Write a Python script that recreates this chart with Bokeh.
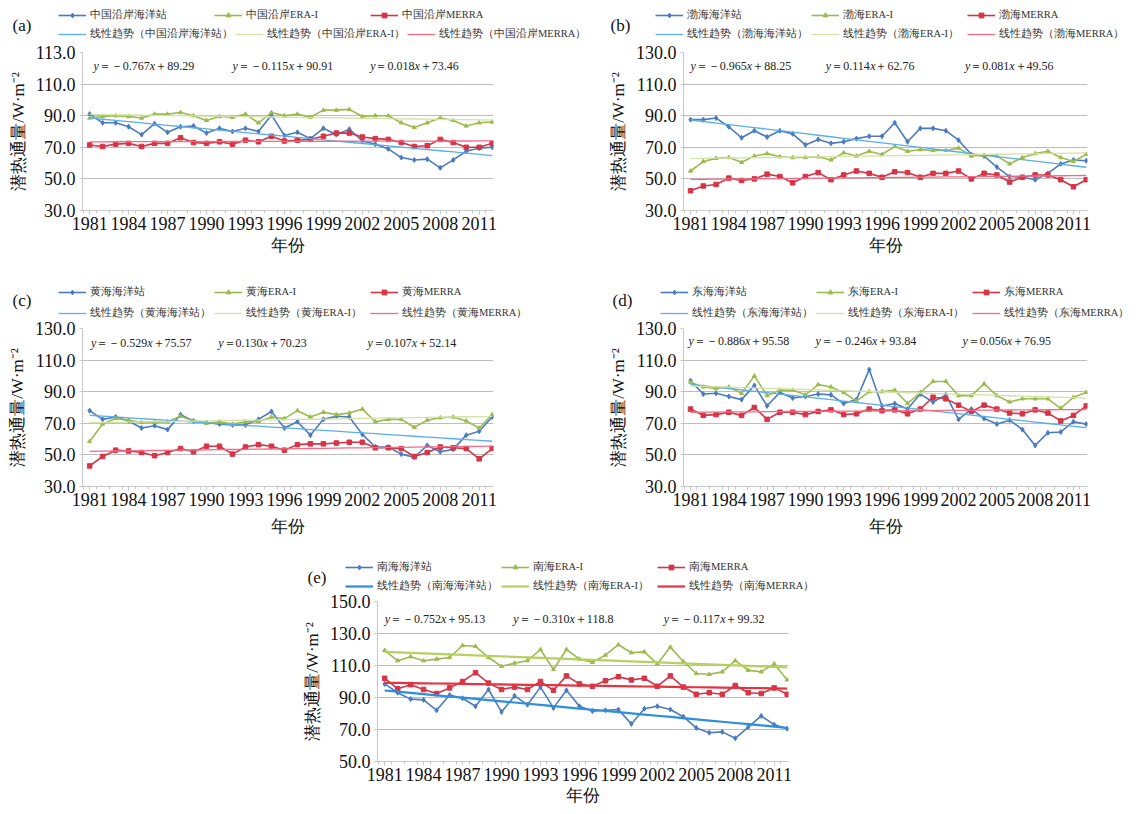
from bokeh.plotting import figure
from bokeh.models import Legend, LegendItem, Label, FixedTicker, PrintfTickFormatter, Range1d, Spacer
from bokeh.layouts import column, row
from bokeh.embed import file_html
from bokeh.resources import INLINE

years = list(range(1981, 2013))
tick_years = list(range(1981, 2012, 3))
minor_years = [y - 0.5 for y in range(1981, 2014)]

regions = ["中国沿岸", "渤海", "黄海", "东海", "南海"]
tags = ["(a)", "(b)", "(c)", "(d)", "(e)"]

# ---- (a) 中国沿岸 ----
a_station = [91, 85.5, 85.5, 83, 78, 85, 79.5, 83, 83.5, 79, 82, 80, 82, 80, 90.5, 77.5,
             79.5, 75.5, 82, 78, 81.5, 74, 72, 69, 63.5, 62, 62.5, 57, 62, 67.5, 69.5, 70]
a_era = [88.5, 89.5, 90, 89.5, 88.5, 91, 91, 92, 90, 87, 89.5, 89, 91, 85.5, 92, 90,
         91, 89, 93.5, 93.5, 94, 89.5, 90, 90, 85.5, 82.5, 85.5, 88.5, 87, 83.5, 85.5, 86]
a_merra = [71.5, 70.5, 72, 72.5, 70.5, 72.5, 72.5, 76, 73, 72.5, 73.5, 72, 74.5, 73.5, 77, 74,
           74.5, 75, 77, 79, 79, 76.5, 75.5, 75, 73, 70.5, 71, 75, 73, 70, 70, 72.5]
a_coef = [(-0.767, 89.29), (-0.115, 90.91), (0.018, 73.46)]
a_eq = ["y＝－0.767x＋89.29", "y＝－0.115x＋90.91", "y＝0.018x＋73.46"]

# ---- (b) 渤海 ----
b_station = [87.5, 87.5, 88.5, 83, 76, 80.5, 76.5, 80.5, 78.5, 71.5, 75, 72.5, 73.5, 75.5, 77, 77,
             85.5, 73.5, 82, 82, 80.5, 74.5, 65.5, 64.5, 57.5, 51.5, 51, 49.5, 53.5, 59.5, 62, 61.5]
b_era = [55, 61, 63, 63.5, 60.5, 64.5, 66, 64, 63.5, 63.5, 64, 62, 66.5, 64.5, 67.5, 65.5,
         70.5, 67.5, 68.5, 68, 68, 69.5, 64.5, 65, 64.5, 59.5, 63.5, 66, 67.5, 63.5, 61, 65.5]
b_merra = [42.5, 45.5, 46.5, 50.5, 49, 50, 53, 51.5, 47.5, 51.5, 54, 49.5, 52.5, 55, 53.5, 51,
           54.5, 54, 51, 53.5, 53.5, 55, 50, 53.5, 52.5, 48, 51, 52.5, 52.5, 49.5, 45, 49.5]
b_coef = [(-0.965, 88.25), (0.114, 62.76), (0.081, 49.56)]
b_eq = ["y＝－0.965x＋88.25", "y＝0.114x＋62.76", "y＝0.081x＋49.56"]

# ---- (c) 黄海 ----
c_station = [78, 72.5, 74, 71.5, 67, 68.5, 66, 75.5, 71.5, 70.5, 69.5, 69, 69, 72.5, 77.5, 67,
             71, 62.5, 72.5, 74.5, 74, 63, 55, 55, 50.5, 48.5, 56, 52, 53.5, 62.5, 65, 74]
c_era = [58.5, 69.5, 73, 72, 70.5, 70.5, 71, 74.5, 71.5, 70, 71, 69.5, 71, 71, 74, 73,
         78, 74, 77, 75.5, 76.5, 79, 71, 72.5, 72.5, 67.5, 72, 73.5, 74, 71.5, 67, 75.5]
c_merra = [43, 49, 53, 52.5, 51.5, 49.5, 51.5, 54, 52, 55.5, 55.5, 50.5, 55, 56.5, 55.5, 53,
           56.5, 57, 57, 57.5, 58, 58, 54.5, 54.5, 54, 49, 51.5, 55, 54.5, 54, 47.5, 54]
c_coef = [(-0.529, 75.57), (0.130, 70.23), (0.107, 52.14)]
c_eq = ["y＝－0.529x＋75.57", "y＝0.130x＋70.23", "y＝0.107x＋52.14"]

# ---- (d) 东海 ----
d_station = [97, 88.5, 89, 87, 85, 94, 81, 89.5, 86, 87, 88.5, 88, 82.5, 85, 104, 81,
             82.5, 79, 88.5, 83.5, 88, 72.5, 79, 73, 69.5, 72, 66, 56, 64, 64.5, 71, 69.5]
d_era = [96, 93, 92, 93, 89, 100, 87.5, 91, 91, 88, 94.5, 93, 89.5, 84, 90, 90,
         91, 82.5, 89.5, 96.5, 96.5, 87.5, 87.5, 95, 87.5, 83.5, 85.5, 85.5, 85.5, 79.5, 86.5, 89.5]
d_merra = [79, 75, 75.5, 77, 75, 80, 72.5, 77, 77, 75.5, 77.5, 78.5, 75.5, 76, 79, 78,
           78.5, 76, 79, 86.5, 85.5, 81.5, 77.5, 81.5, 79, 76.5, 76, 78.5, 76.5, 71.5, 75, 81]
d_coef = [(-0.886, 95.58), (-0.246, 93.84), (0.056, 76.95)]
d_eq = ["y＝－0.886x＋95.58", "y＝－0.246x＋93.84", "y＝0.056x＋76.95"]

# ---- (e) 南海 ----
e_station = [98.5, 93, 89, 88.5, 82, 91.5, 89.5, 84.5, 95, 81, 91, 85.5, 96.5, 83.5, 94.5, 84.5,
             81.5, 82, 82.5, 73.5, 83, 84.5, 82.5, 78, 71, 68, 68.5, 64.5, 71.5, 78.5, 73, 70.5]
e_era = [119.5, 113, 115.5, 113, 114, 115, 122.5, 122, 115, 109.5, 111.5, 113, 120, 107.5, 120, 114,
         112, 116.5, 123, 118, 118.5, 111, 121.5, 112.5, 105, 104.5, 106, 113, 107, 106, 111, 101]
e_merra = [102, 95.5, 98, 95, 92.5, 96, 100, 105.5, 99, 95, 96.5, 95, 100, 94.5, 103.5, 98.5,
           97, 100.5, 103, 101, 102, 97, 103.5, 96.5, 92, 93, 92, 97.5, 93, 92.5, 96, 92]
e_coef = [(-0.752, 95.13), (-0.310, 118.8), (-0.117, 99.32)]
e_eq = ["y＝－0.752x＋95.13", "y＝－0.310x＋118.8", "y＝－0.117x＋99.32"]

y_ticks_ad = [30, 50, 70, 90, 110, 130]
y_ticks_e = [50, 70, 90, 110, 130, 150]

SERIF = "Liberation Serif"
ST, ERA, ME = "#4A7BC0", "#9BBB4C", "#D63447"
TOP_IN_PLOT = 8
EQ_SIZE = 12
TICK_SIZE = "18px"


def char_w(ch, size):
    if ord(ch) > 0x2E80:
        return size
    if ch == ".":
        return 0.25 * size
    if ch in "xy":
        return 0.444 * size
    return 0.5 * size


def eq_segments(txt):
    """split an equation into (text, italic) runs: variables x, y are italic"""
    segs, cur = [], ""
    for ch in txt:
        if ch in "xy":
            if cur:
                segs.append((cur, False))
                cur = ""
            segs.append((ch, True))
        else:
            cur += ch
    if cur:
        segs.append((cur, False))
    return segs


def add_series(fig, st, era, me, trends, trend_cols, trend_w, msize=(5, 4, 4.5)):
    r = {}
    r["l1"] = fig.line(years, st, color=ST, line_width=1.6)
    r["m1"] = fig.scatter(years, st, marker="diamond", size=msize[0], color=ST)
    r["l2"] = fig.line(years, era, color=ERA, line_width=1.6)
    r["m2"] = fig.scatter(years, era, marker="triangle", size=msize[1], color=ERA)
    r["l3"] = fig.line(years, me, color=ME, line_width=1.6)
    r["m3"] = fig.scatter(years, me, marker="square", size=msize[2], color=ME)
    r["t"] = [fig.line(years, ys, color=col, line_width=trend_w) for ys, col in zip(trends, trend_cols)]
    return r


def make_panel(tag, region, st, era, me, coefs, eqs, eq_x, eq_dy, y0, y1, yticks, overrides,
               fw, fh, bl, br, bt, bb, leg_x, tag_x, rows_y, trend_cols, trend_w, x_ax_std=3):
    width = bl + fw + br
    trends = [[a * i + b for i in range(1, len(years) + 1)] for a, b in coefs]
    # ---------- main plot ----------
    p = figure(frame_width=fw, frame_height=fh, min_border_left=bl, min_border_right=br,
               min_border_top=TOP_IN_PLOT, min_border_bottom=bb, output_backend="svg",
               toolbar_location=None, x_range=Range1d(1980.45, 2012.1), y_range=Range1d(y0, y1))
    p.outline_line_color = None
    p.xgrid.grid_line_color = None
    p.ygrid.grid_line_color = "#BDBDBD"
    p.ygrid.grid_line_width = 1.2
    p.ygrid.ticker = FixedTicker(ticks=yticks)

    p.xaxis.ticker = FixedTicker(ticks=tick_years, minor_ticks=minor_years)
    p.yaxis.ticker = FixedTicker(ticks=yticks)
    p.yaxis.formatter = PrintfTickFormatter(format="%.1f")
    if overrides:
        p.yaxis.major_label_overrides = overrides
    for ax in (p.xaxis, p.yaxis):
        ax.axis_line_color = "#C8C8C8"
        ax.major_tick_line_color = "#C8C8C8"
        ax.minor_tick_line_color = "#C8C8C8"
        ax.major_tick_in = 0
        ax.major_tick_out = 4
        ax.minor_tick_in = 0
        ax.minor_tick_out = 3
        ax.major_label_text_font = SERIF
        ax.major_label_text_font_size = TICK_SIZE
        ax.major_label_text_color = "#111111"
        ax.axis_label_text_font = SERIF
        ax.axis_label_text_font_size = "17px"
        ax.axis_label_text_font_style = "normal"
        ax.axis_label_text_color = "#111111"
    p.yaxis.minor_tick_out = 0
    p.yaxis.major_tick_out = 3
    p.yaxis.major_label_standoff = 4
    p.yaxis.axis_label_standoff = 5
    p.xaxis.major_label_standoff = 2
    p.xaxis.axis_label_standoff = x_ax_std
    p.xaxis.axis_label = "年份"
    p.yaxis.axis_label = "潜热通量/W·m⁻²"

    add_series(p, st, era, me, trends, trend_cols, trend_w)

    # regression equations, with italic variables
    for txt, xx in zip(eqs, eq_x):
        off = 0.0
        for seg, ital in eq_segments(txt):
            p.add_layout(Label(x=xx, y=fh - eq_dy, x_units="data", y_units="screen", text=seg,
                               x_offset=off, text_font=SERIF, text_font_size=f"{EQ_SIZE}px",
                               text_font_style="italic" if ital else "normal",
                               text_color="#222222", text_baseline="middle"))
            off += sum(char_w(c, EQ_SIZE) for c in seg)

    # ---------- header strip with legend and panel tag ----------
    hh = bt - TOP_IN_PLOT
    h = figure(width=width, height=hh, min_border=0, output_backend="svg", toolbar_location=None,
               x_axis_type=None, y_axis_type=None, x_range=Range1d(0, 1), y_range=Range1d(0, 1))
    h.outline_line_color = None
    h.xgrid.visible = False
    h.ygrid.visible = False
    # same series (outside this strip's visible range) feed the legend glyphs
    r = add_series(h, st, era, me, trends, trend_cols, trend_w, msize=(4, 3, 3.5))

    r1, r2, rt = rows_y  # centres of legend rows and tag, px from header top
    lh = 13
    common = dict(orientation="horizontal", glyph_width=28, glyph_height=12, label_height=lh,
                  label_width=122, label_standoff=4, spacing=2, padding=0, margin=0,
                  border_line_color=None, background_fill_alpha=0,
                  label_text_font=SERIF, label_text_font_size="10.5px", label_text_color="#333333")
    leg1 = Legend(items=[LegendItem(label=f"{region}海洋站", renderers=[r["l1"], r["m1"]]),
                         LegendItem(label=f"{region}ERA-I", renderers=[r["l2"], r["m2"]]),
                         LegendItem(label=f"{region}MERRA", renderers=[r["l3"], r["m3"]])],
                  location=(leg_x, hh - (r1 + lh / 2)), **common)
    leg2 = Legend(items=[LegendItem(label=f"线性趋势（{region}海洋站）", renderers=[r["t"][0]]),
                         LegendItem(label=f"线性趋势（{region}ERA-I）", renderers=[r["t"][1]]),
                         LegendItem(label=f"线性趋势（{region}MERRA）", renderers=[r["t"][2]])],
                  location=(leg_x, hh - (r2 + lh / 2)), **common)
    h.add_layout(leg1, "center")
    h.add_layout(leg2, "center")
    h.add_layout(Label(x=tag_x, y=hh - rt, x_units="screen", y_units="screen", text=tag,
                       text_font=SERIF, text_font_size="17px", text_color="#111111",
                       text_baseline="middle"))
    return column(row(h), p)


trend_light = ["#5AAEE6", "#D3E2A6", "#F26B82"]
trend_bold = ["#2B8FDB", "#B8D061", "#E5323F"]

pa = make_panel(tags[0], regions[0], a_station, a_era, a_merra, a_coef, a_eq,
                [1981.3, 1992.0, 2002.6], 13, 30, 130, y_ticks_ad, {130: "113.0", "130": "113.0"},
                411, 158, 82, 110, 52, 68, 58, 12, (15, 34, 25), trend_light, 1.3, 3)
pb = make_panel(tags[1], regions[1], b_station, b_era, b_merra, b_coef, b_eq,
                [1981.0, 1991.6, 2002.5], 13, 30, 130, y_ticks_ad, None,
                404, 158, 80, 50, 52, 68, 52, 7, (15, 34, 25), trend_light, 1.3, 3)
pc = make_panel(tags[2], regions[2], c_station, c_era, c_merra, c_coef, c_eq,
                [1981.1, 1990.9, 2002.4], 14, 30, 130, y_ticks_ad, None,
                411, 158, 82, 110, 50, 66, 58, 12, (14, 35, 22), trend_light, 1.3, 8)
pd_ = make_panel(tags[3], regions[3], d_station, d_era, d_merra, d_coef, d_eq,
                 [1980.85, 1990.8, 2002.3], 12, 30, 130, y_ticks_ad, None,
                 404, 158, 80, 50, 50, 66, 57, 9, (14, 35, 22), trend_light, 1.3, 8)
pe = make_panel(tags[4], regions[4], e_station, e_era, e_merra, e_coef, e_eq,
                [1981.0, 1990.9, 2002.5], 17, 50, 150, y_ticks_e, None,
                411, 160, 82, 90, 49, 50, 50, 12, (15, 34, 25), trend_bold, 2.2, 2)

layout = column(row(pa, pb), row(pc, pd_), row(Spacer(width=295, height=10), pe))

open("out.html", "w").write(file_html(layout, INLINE))
